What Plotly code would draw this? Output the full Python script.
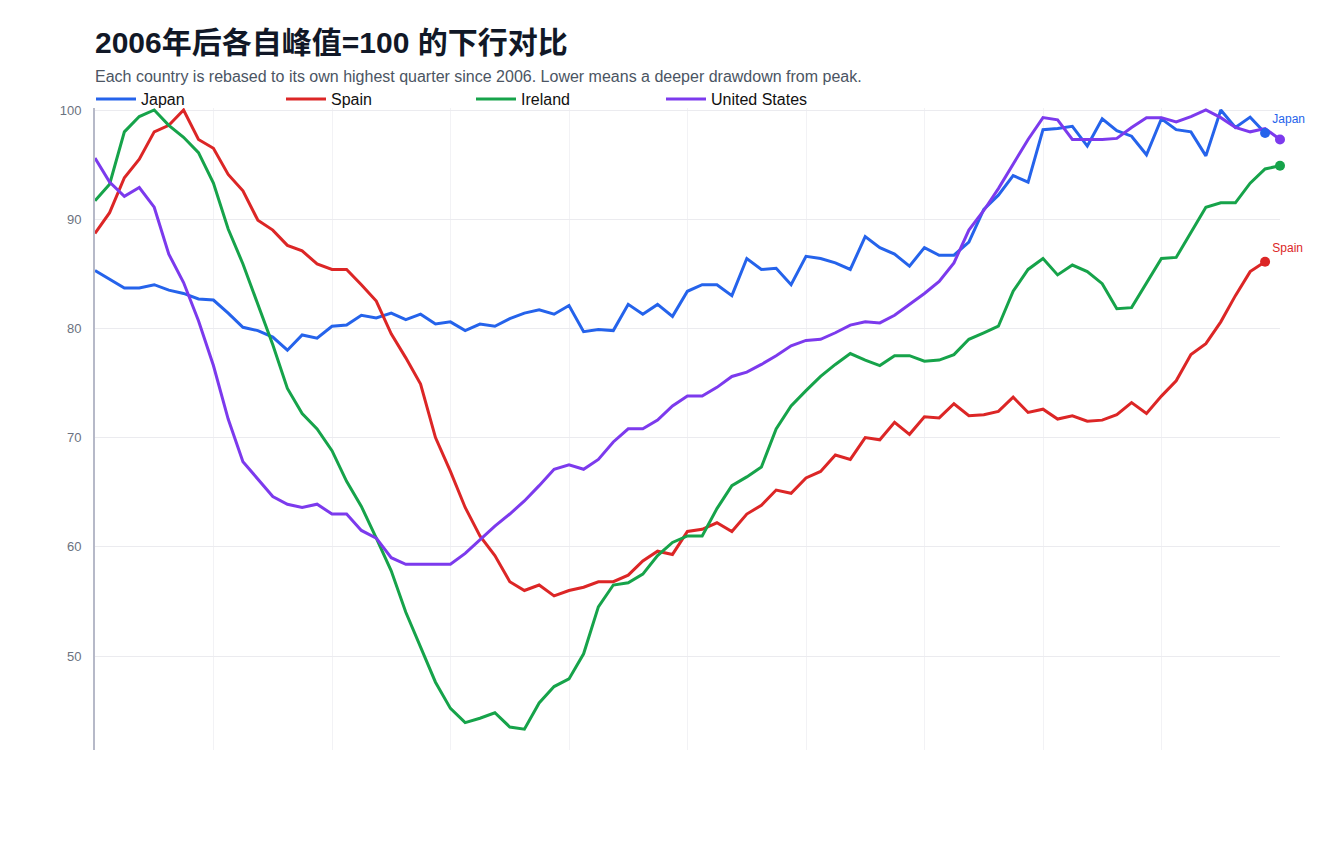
import pandas as pd
import plotly.graph_objects as go

# Quarterly periods since 2006Q1
quarters = pd.date_range("2006-01-01", periods=81, freq="QS")

countries = ["Japan", "Spain", "Ireland", "United States"]
colors = ["#2563eb", "#dc2626", "#16a34a", "#7c3aed"]
# end-of-line labels visible in the reference (the others sit outside the view)
end_labels = ["Japan", "Spain", "", ""]

japan = [85.3, 84.5, 83.7, 83.7, 84.0, 83.5, 83.2, 82.7, 82.6, 81.4,
         80.1, 79.8, 79.2, 78.0, 79.4, 79.1, 80.2, 80.3, 81.2, 80.95,
         81.4, 80.8, 81.3, 80.4, 80.6, 79.8, 80.4, 80.2, 80.9, 81.4,
         81.7, 81.3, 82.1, 79.7, 79.9, 79.8, 82.2, 81.3, 82.2, 81.1,
         83.4, 84.0, 84.0, 83.0, 86.4, 85.4, 85.5, 84.0, 86.6, 86.4,
         86.0, 85.4, 88.4, 87.4, 86.8, 85.7, 87.4, 86.7, 86.7, 87.9,
         90.9, 92.2, 94.0, 93.4, 98.2, 98.3, 98.5, 96.7, 99.2, 98.1,
         97.6, 95.9, 99.2, 98.2, 98.0, 95.8, 100.0, 98.4, 99.35, 97.9]

spain = [88.7, 90.6, 93.8, 95.5, 98.0, 98.6, 100.0, 97.3, 96.5, 94.1,
         92.6, 89.9, 89.0, 87.6, 87.1, 85.9, 85.4, 85.4, 84.0, 82.5,
         79.5, 77.3, 74.9, 70.0, 66.9, 63.6, 61.0, 59.2, 56.8, 56.0,
         56.5, 55.5, 56.0, 56.3, 56.8, 56.8, 57.4, 58.7, 59.6, 59.3,
         61.4, 61.6, 62.2, 61.4, 63.0, 63.8, 65.2, 64.9, 66.3, 66.9,
         68.4, 68.0, 70.0, 69.8, 71.4, 70.3, 71.9, 71.8, 73.1, 72.0,
         72.1, 72.4, 73.7, 72.3, 72.6, 71.7, 72.0, 71.5, 71.6, 72.1,
         73.2, 72.2, 73.8, 75.2, 77.6, 78.6, 80.6, 83.0, 85.2, 86.1]

ireland = [91.7, 93.2, 98.0, 99.4, 100.0, 98.6, 97.5, 96.1, 93.3, 89.1,
           85.9, 82.1, 78.5, 74.5, 72.2, 70.8, 68.8, 66.0, 63.7, 60.8,
           57.8, 54.0, 50.8, 47.6, 45.2, 43.9, 44.3, 44.8, 43.5, 43.3,
           45.7, 47.2, 47.9, 50.2, 54.5, 56.5, 56.7, 57.5, 59.2, 60.4,
           61.0, 61.0, 63.5, 65.6, 66.4, 67.3, 70.8, 72.9, 74.3, 75.6,
           76.7, 77.7, 77.1, 76.6, 77.5, 77.5, 77.0, 77.1, 77.6, 79.0,
           79.6, 80.2, 83.4, 85.4, 86.4, 84.9, 85.8, 85.2, 84.1, 81.8,
           81.9, 84.1, 86.4, 86.5, 88.8, 91.1, 91.5, 91.5, 93.3, 94.6,
           94.9]

united_states = [95.6, 93.4, 92.1, 92.9, 91.1, 86.8, 84.2, 80.7, 76.6, 71.7,
                 67.8, 66.2, 64.6, 63.9, 63.6, 63.9, 63.0, 63.0, 61.5, 60.8,
                 59.0, 58.4, 58.4, 58.4, 58.4, 59.4, 60.6, 61.9, 63.0, 64.2,
                 65.6, 67.1, 67.5, 67.1, 68.0, 69.6, 70.8, 70.8, 71.6, 72.9,
                 73.8, 73.8, 74.6, 75.6, 76.0, 76.7, 77.5, 78.4, 78.9, 79.0,
                 79.6, 80.3, 80.6, 80.5, 81.2, 82.2, 83.2, 84.3, 86.0, 89.0,
                 90.8, 92.8, 95.1, 97.3, 99.3, 99.1, 97.3, 97.3, 97.3, 97.4,
                 98.4, 99.3, 99.3, 98.9, 99.4, 100.0, 99.3, 98.4, 98.0, 98.3,
                 97.3]

series = [japan, spain, ireland, united_states]

title_text = "2006年后各自峰值=100 的下行对比"
subtitle_text = ("Each country is rebased to its own highest quarter since 2006. "
                 "Lower means a deeper drawdown from peak.")

FONT = "Liberation Sans, Arial, Noto Sans CJK SC, sans-serif"
W, H = 1320, 860
TOP_PAD = 2                      # px of headroom above the 100 gridline
ML, MR, MT, MB = 95, 40, 110 - TOP_PAD, 110
PH = H - MT - MB
Y_PER_UNIT = 10.92               # px per index point, as in the reference
y_high = 100 + TOP_PAD / Y_PER_UNIT
y_low = y_high - PH / Y_PER_UNIT

fig = go.Figure()
for name, col, vals in zip(countries, colors, series):
    xs = quarters[:len(vals)]
    fig.add_trace(go.Scatter(
        x=xs, y=vals, name=name, mode="lines",
        line=dict(color=col, width=3),
    ))
for name, col, vals, lab in zip(countries, colors, series, end_labels):
    xs = quarters[:len(vals)]
    fig.add_trace(go.Scatter(
        x=[xs[-1]], y=[vals[-1]], mode="markers+text", text=[lab],
        textposition="top right", showlegend=False, cliponaxis=False,
        marker=dict(color=col, size=10),
        textfont=dict(color=col, size=12, family=FONT),
        name=name, hoverinfo="skip",
    ))

fig.update_layout(
    width=W, height=H,
    margin=dict(l=ML, r=MR, t=MT, b=MB),
    paper_bgcolor="white", plot_bgcolor="white",
    font=dict(family=FONT, color="#111111"),
    title=dict(text="<b>" + title_text + "</b>", xref="container", yref="container",
               x=ML / W, xanchor="left", y=1 - 42 / H, yanchor="middle",
               font=dict(size=30, color="#111827", family=FONT)),
    legend=dict(orientation="h", x=-4 / (W - ML - MR), xanchor="left",
                y=1 + 9 / PH, yanchor="middle",
                font=dict(size=16, color="#111111", family=FONT),
                entrywidth=135, entrywidthmode="pixels", itemwidth=40,
                bgcolor="rgba(0,0,0,0)", traceorder="normal"),
    annotations=[dict(text=subtitle_text, xref="paper", yref="paper",
                      x=0, xanchor="left", xshift=-2,
                      y=1 + 31 / PH, yanchor="middle",
                      showarrow=False,
                      font=dict(size=16, color="#4b5563", family=FONT))],
    showlegend=True,
)
fig.update_xaxes(type="date", range=[quarters[0], quarters[80]],
                 tick0="2006-01-01", dtick="M24", tickformat="%Y",
                 showgrid=True, gridcolor="#f2f2f5", gridwidth=1,
                 showline=False, zeroline=False, ticks="",
                 showticklabels=False)
fig.update_yaxes(range=[y_low, y_high], dtick=10, tick0=0,
                 showgrid=True, gridcolor="#ebebef", gridwidth=1,
                 showline=True, linecolor="#b6b9c8", linewidth=2,
                 zeroline=False, ticks="", ticklabelstandoff=9,
                 tickfont=dict(size=13, color="#6b7280"))

fig.write_html("out.html")
